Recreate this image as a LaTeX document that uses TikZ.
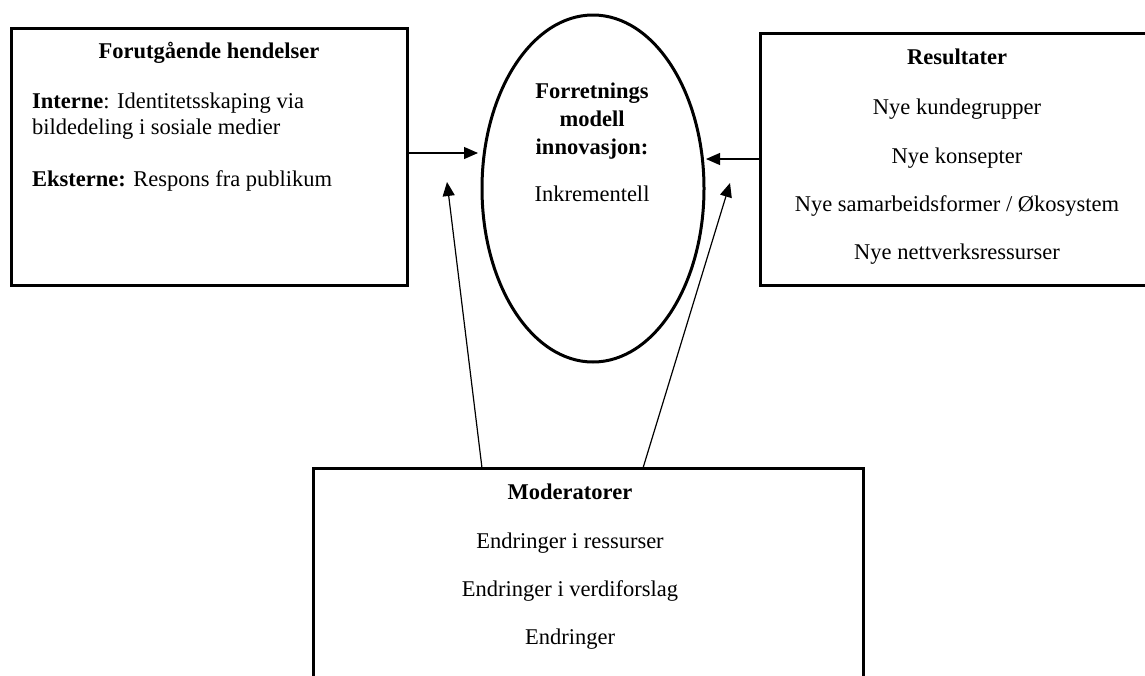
\documentclass[tikz,border=0pt]{standalone}
\usepackage{fontspec}
\setmainfont{Liberation Serif}
\usetikzlibrary{shapes.geometric,arrows.meta}
\tikzset{
  boxshape/.style={draw=black,line width=3pt,rectangle,inner sep=0pt},
  ellshape/.style={draw=black,line width=3pt,ellipse,inner sep=0pt},
  txt/.style={anchor=base,inner sep=0pt,font=\fontsize{22.5pt}{26pt}\selectfont},
  ltxt/.style={txt,anchor=base west},
  arr/.style={draw=black,line width=1.2pt,-{Triangle[length=14pt,width=12pt]}}
}
\begin{document}
\begin{tikzpicture}[x=1pt,y=-1pt]
\useasboundingbox (0,0) rectangle (1145,675);
\clip (0,0) rectangle (1145,675);
% shapes
\node[boxshape,minimum width=396pt,minimum height=257pt] (lbox) at (209,156.5) {};
\node[ellshape,minimum width=222pt,minimum height=347pt] (ell) at (593,188.5) {};
\node[boxshape,minimum width=410pt,minimum height=252pt] (rbox) at (965,159) {};
\node[boxshape,minimum width=550pt,minimum height=232pt] (bbox) at (588,584) {};
% left box text
\node[txt] (lt) at (209,58) {\textbf{Forutgående hendelser}};
\node[ltxt] (l1) at (32,108) {\textbf{Interne}: Identitetsskaping via};
\node[ltxt] (l2) at (32,134) {bildedeling i sosiale medier};
\node[ltxt] (l3) at (32,186) {\textbf{Eksterne:} Respons fra publikum};
% ellipse text
\node[txt] (e1) at (592,98) {\textbf{Forretnings}};
\node[txt] (e2) at (592,126) {\textbf{modell}};
\node[txt] (e3) at (592,154) {\textbf{innovasjon:}};
\node[txt] (e4) at (592,201) {Inkrementell};
% right box text
\node[txt] (rt) at (957,64) {\textbf{Resultater}};
\node[txt] (r1) at (957,114) {Nye kundegrupper};
\node[txt] (r2) at (957,163) {Nye konsepter};
\node[txt] (r3) at (957,211) {Nye samarbeidsformer / Økosystem};
\node[txt] (r4) at (957,259) {Nye nettverksressurser};
% bottom box text
\node[txt] (bt) at (570,499) {\textbf{Moderatorer}};
\node[txt] (b1) at (570,548) {Endringer i ressurser};
\node[txt] (b2) at (570,596) {Endringer i verdiforslag};
\node[txt] (b3) at (570,644) {Endringer};
% connectors
\coordinate (t1) at (478,153);
\coordinate (t2) at (706,159);
\coordinate (t3) at (447,182);
\coordinate (t4) at (730,183);
\coordinate (s3) at (482,468);
\coordinate (s4) at (643,468);
\draw[arr] (lbox.east |- t1) -- (t1);
\draw[arr] (rbox.west |- t2) -- (t2);
\draw[arr] (s3) -- (t3);
\draw[arr] (s4) -- (t4);
\end{tikzpicture}
\end{document}
